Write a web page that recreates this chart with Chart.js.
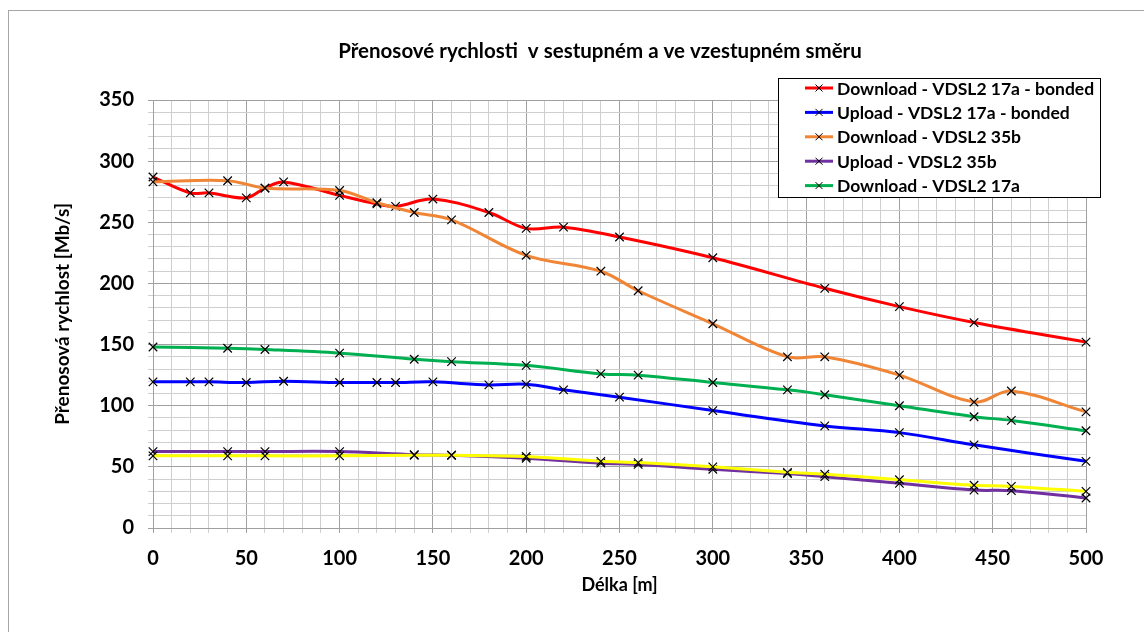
<!DOCTYPE html>
<html>
<head>
<meta charset="utf-8">
<script src="https://cdn.jsdelivr.net/npm/chart.js@4"></script>
<style>
  html, body { margin: 0; padding: 0; background: #fff; }
  #wrap { width: 1144px; height: 632px; position: relative; }
</style>
</head>
<body>
<div id="wrap"><canvas id="speedChart"></canvas></div>
<script>
// Download - VDSL2 17a - bonded
const dlBondedDist = [0, 20, 30, 50, 60, 70, 100, 120, 130, 150, 180, 200, 220, 250, 300, 360, 400, 440, 500];
const dlBondedRate = [287, 274, 274, 270, 278, 283, 272, 265, 263, 269, 258, 245, 246, 238, 221, 196, 181, 168, 152];

// Upload - VDSL2 17a - bonded
const ulBondedDist = [0, 20, 30, 50, 70, 100, 120, 130, 150, 180, 200, 220, 250, 300, 360, 400, 440, 500];
const ulBondedRate = [119.5, 119.5, 119.5, 119, 120, 119, 119, 119, 119.5, 117, 117.5, 113, 107, 96, 83.5, 78, 68, 54.5];

// Download - VDSL2 35b
const dl35bDist = [0, 40, 60, 100, 120, 140, 160, 200, 240, 260, 300, 340, 360, 400, 440, 460, 500];
const dl35bRate = [283, 284, 278, 276, 266, 258, 252, 223, 210, 194, 167, 140, 140, 125, 103, 112, 95];

// Upload - VDSL2 35b
const ul35bDist = [0, 40, 60, 100, 140, 160, 200, 240, 260, 300, 340, 360, 400, 440, 460, 500];
const ul35bRate = [62.5, 62.5, 62.5, 62.5, 60, 59.5, 57, 53, 52, 48, 44.5, 42, 36.5, 31, 30.5, 24.5];

// Download - VDSL2 17a
const dl17aDist = [0, 40, 60, 100, 140, 160, 200, 240, 260, 300, 340, 360, 400, 440, 460, 500];
const dl17aRate = [148, 147, 146, 143, 138, 136, 133, 126, 125, 119, 113, 109, 100, 91, 88, 79.5];

// Upload - VDSL2 17a (bez položky v legendě)
const ul17aDist = [0, 40, 60, 100, 140, 160, 200, 240, 260, 300, 340, 360, 400, 440, 460, 500];
const ul17aRate = [59, 59, 59, 59, 59.5, 59.5, 58.5, 54.5, 53.5, 50, 45.5, 44, 39.5, 35, 34, 30];

const seriesNames = [
  'Download - VDSL2 17a - bonded',
  'Upload - VDSL2 17a - bonded',
  'Download - VDSL2 35b',
  'Upload - VDSL2 35b',
  'Download - VDSL2 17a',
  'Upload - VDSL2 17a'
];
const seriesColors = ['#ff0000', '#0000ff', '#f08536', '#7030a0', '#00b050', '#ffff00'];
const inLegend = [true, true, true, true, true, false];

const chartTitle = 'Přenosové rychlosti  v sestupném a ve vzestupném směru';
const FONT = 'Lato, Calibri, "Open Sans", sans-serif';

const toPoints = (xs, ys) => xs.map((x, i) => ({ x, y: ys[i] }));
const seriesData = [
  toPoints(dlBondedDist, dlBondedRate),
  toPoints(ulBondedDist, ulBondedRate),
  toPoints(dl35bDist, dl35bRate),
  toPoints(ul35bDist, ul35bRate),
  toPoints(dl17aDist, dl17aRate),
  toPoints(ul17aDist, ul17aRate)
];

// pozadí, rámeček a nadpis celého grafu
const framePlugin = {
  id: 'framePlugin',
  beforeDraw(chart) {
    const { ctx } = chart;
    ctx.save();
    ctx.fillStyle = '#fff';
    ctx.fillRect(0, 0, chart.width, chart.height);
    ctx.strokeStyle = '#a6a6a6';
    ctx.lineWidth = 1;
    ctx.strokeRect(8.5, 10.5, chart.width + 20, chart.height + 20);
    // nadpis je posunutý doprava jako v Excelu
    ctx.fillStyle = '#000';
    ctx.font = 'bold 20.5px ' + FONT;
    ctx.textAlign = 'center';
    ctx.textBaseline = 'middle';
    ctx.fillText(chartTitle, 600, 51);
    ctx.restore();
  }
};

// legenda ve stylu Excelu (čára s křížkem)
const legendPlugin = {
  id: 'legendPlugin',
  afterDraw(chart) {
    const { ctx } = chart;
    const left = 778, top = 78, w = 322, h = 119, rowH = 24.4;
    ctx.save();
    ctx.fillStyle = '#fff';
    ctx.fillRect(left, top, w, h);
    ctx.strokeStyle = '#000';
    ctx.lineWidth = 1;
    ctx.strokeRect(left + 0.5, top + 0.5, w, h);
    ctx.font = 'bold 17.5px ' + FONT;
    ctx.textBaseline = 'middle';
    let row = 0;
    chart.data.datasets.forEach((ds, i) => {
      if (!inLegend[i]) return;
      const y = top + 10 + row * rowH;
      ctx.strokeStyle = ds.borderColor;
      ctx.lineWidth = 3;
      ctx.beginPath();
      ctx.moveTo(805, y);
      ctx.lineTo(833, y);
      ctx.stroke();
      ctx.strokeStyle = '#000';
      ctx.lineWidth = 1;
      ctx.beginPath();
      ctx.moveTo(815.5, y - 3.5); ctx.lineTo(822.5, y + 3.5);
      ctx.moveTo(815.5, y + 3.5); ctx.lineTo(822.5, y - 3.5);
      ctx.stroke();
      ctx.fillStyle = '#000';
      ctx.fillText(ds.label, 837, y + 1);
      row++;
    });
    ctx.restore();
  }
};

const gridColor = (c) => (c.tick && c.tick.value % 50 === 0 ? '#a0a0a0' : '#cfcfcf');

new Chart(document.getElementById('speedChart'), {
  type: 'line',
  data: {
    datasets: seriesData.map((data, i) => ({
      label: seriesNames[i],
      data,
      borderColor: seriesColors[i],
      backgroundColor: seriesColors[i],
      borderWidth: 3,
      tension: 0.35,
      fill: false,
      clip: false,
      order: 10 - i,
      pointStyle: 'crossRot',
      pointRadius: 6,
      pointBorderColor: '#000',
      pointBorderWidth: 1.2,
      pointBackgroundColor: 'rgba(0,0,0,0)'
    }))
  },
  options: {
    responsive: true,
    maintainAspectRatio: false,
    animation: false,
    layout: { padding: { top: 100, right: 58, bottom: 0, left: 0 } },
    plugins: {
      legend: { display: false },
      tooltip: { enabled: false },
      title: { display: false }
    },
    scales: {
      x: {
        type: 'linear',
        min: 0,
        max: 500,
        ticks: {
          stepSize: 10,
          autoSkip: false,
          maxRotation: 0,
          color: '#000',
          padding: 14,
          font: { family: FONT, size: 20, weight: 'bold' },
          callback: (v) => (v % 50 === 0 ? v : '')
        },
        grid: { color: gridColor, tickLength: 5, lineWidth: 1 },
        border: { color: '#a0a0a0' },
        title: {
          display: true,
          text: 'Délka [m]',
          color: '#000',
          font: { family: FONT, size: 18, weight: 'bold' },
          padding: { top: 0, bottom: 36 }
        },
        afterFit: (s) => { s.height = 104; }
      },
      y: {
        min: 0,
        max: 350,
        ticks: {
          stepSize: 10,
          autoSkip: false,
          color: '#000',
          padding: 14,
          font: { family: FONT, size: 20, weight: 'bold' },
          callback: (v) => (v % 50 === 0 ? v : '')
        },
        grid: { color: gridColor, tickLength: 5, lineWidth: 1 },
        border: { color: '#a0a0a0' },
        title: {
          display: true,
          text: 'Přenosová rychlost [Mb/s]',
          color: '#000',
          font: { family: FONT, size: 19, weight: 'bold' },
          padding: { top: 51, bottom: 0 }
        },
        afterFit: (s) => { s.width = 153; }
      }
    }
  },
  plugins: [framePlugin, legendPlugin]
});
</script>
</body>
</html>
